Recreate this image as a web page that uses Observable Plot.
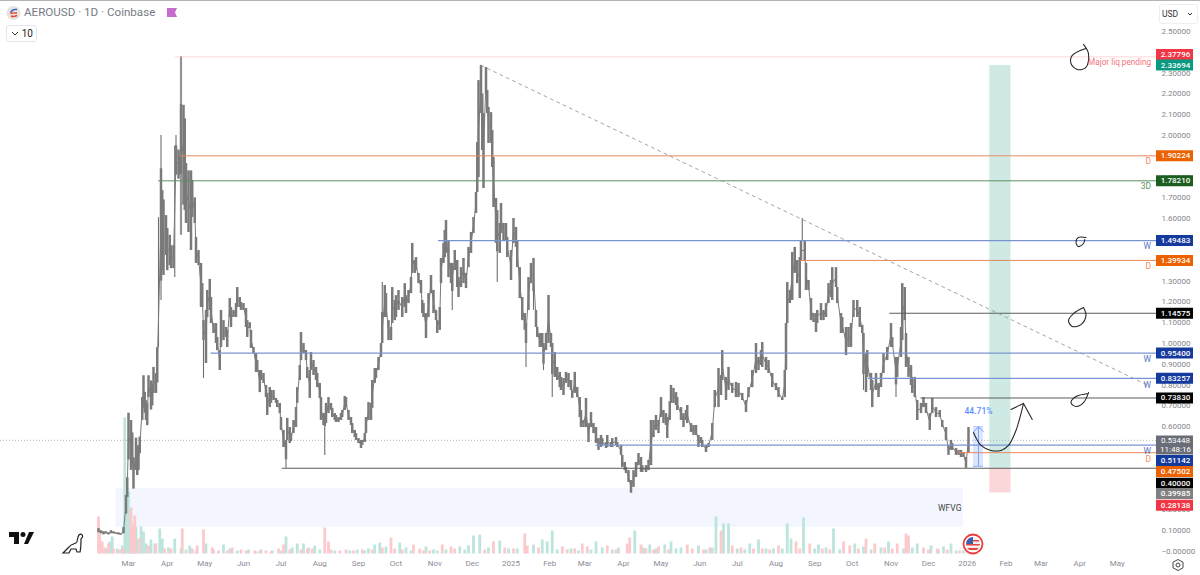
<!DOCTYPE html>
<html><head><meta charset="utf-8">
<script src="https://cdn.jsdelivr.net/npm/d3@7"></script>
<script src="https://cdn.jsdelivr.net/npm/@observablehq/plot@0.6"></script>
<style>
html,body{margin:0;padding:0;background:#fff;width:1200px;height:575px;overflow:hidden;font-family:Roboto,sans-serif}
#wrap{position:relative;width:1200px;height:575px}
#chart{position:absolute;left:0;top:0}
.ov{position:absolute}
#topline{left:0;top:0;width:1200px;height:1px;background:#b4b4b4}
#title{left:24px;top:5px;font-size:11.6px;color:#787b86;white-space:nowrap}
#intv{left:6px;top:25px;width:29px;height:15px;border:1px solid #e6e6ea;border-radius:3px;font-size:10px;color:#222;line-height:15px;text-align:right}
#intv span{margin-right:3px}
#usd{left:1159px;top:4px;width:35px;height:18px;border:1px solid #eeeef2;border-radius:3px;font-size:8.5px;color:#333;line-height:18px;padding-left:2px;box-sizing:content-box}
</style></head><body>
<div id="wrap">
<div id="chart"></div>
<div class="ov" id="topline"></div>
<svg class="ov" style="left:6px;top:5px" width="16" height="16"><circle cx="7.5" cy="8" r="7" fill="#e6e2dc"/><path d="M11 4.500C7 4 4.500 6 5 8" stroke="#2a5bd0" stroke-width="1.400" fill="none"/><path d="M4.500 8.500C7 7.500 9 8 11 8" stroke="#e8453c" stroke-width="1.400" fill="none"/><path d="M5 11C7 12 9 11.500 11 10.500" stroke="#e8453c" stroke-width="1.400" fill="none"/></svg>
<div class="ov" id="title">AEROUSD · 1D · Coinbase</div>
<svg class="ov" style="left:167px;top:8px" width="11" height="10"><path d="M0 0H10L8 4.500L10 9H0Z" fill="#c56ccc"/></svg>
<div class="ov" id="intv"><svg width="8" height="6" style="margin-right:3px"><path d="M1 1L4 4L7 1" stroke="#333" fill="none"/></svg><span>10</span></div>
<div class="ov" id="usd">USD<svg width="6" height="5" style="margin-left:9px"><path d="M1 1L3 3L5 1" stroke="#333" fill="none"/></svg></div>
<svg class="ov" style="left:9px;top:532px" width="25" height="13"><path d="M0 0H10V12H5V5H0Z" fill="#111"/><circle cx="14" cy="2.500" r="2.500" fill="#111"/><path d="M15 12L20 0H25L19 12Z" fill="#111"/></svg>
<svg class="ov" style="left:61px;top:533px" width="24" height="22"><path d="M2 20L8 14C10 11 13 11 15 10C17 9 16 4 18 2C20 0 22 2 21.500 4L20 6C20 10 20 15 19 19H16L15 16H10L8 20Z" fill="none" stroke="#222" stroke-width="1.200"/></svg>
<svg class="ov" style="left:962px;top:533px" width="22" height="22"><circle cx="11" cy="11" r="9.500" fill="#fff" stroke="#ee3b3b" stroke-width="1.800"/><clipPath id="flagclip"><circle cx="11" cy="11" r="7"/></clipPath><g clip-path="url(#flagclip)"><rect x="3" y="4" width="16" height="14" fill="#f2f2f2"/><rect x="3" y="7" width="16" height="1.500" fill="#e8453c"/><rect x="3" y="11" width="16" height="1.500" fill="#e8453c"/><rect x="3" y="15" width="16" height="2" fill="#e8453c"/><rect x="3" y="4" width="8" height="7" fill="#3a5fb0"/></g></svg>
<svg class="ov" style="left:1171px;top:558px" width="14" height="14"><path d="M7 1.500L12 4.200V9.800L7 12.500L2 9.800V4.200Z" fill="none" stroke="#444" stroke-width="1"/><circle cx="7" cy="7" r="2" fill="none" stroke="#444"/></svg>
</div>
<script>
// Days are counted from 6 Feb 2024.
const startUTC = Date.UTC(2024, 1, 6);
const day = d => new Date(startUTC + d * 864e5);

// AERO/USD candle ranges: [day, high, low]
const earlyCandles = [[0,.11,.09],[2,.10,.085],[4,.095,.08],[6,.095,.085],[8,.09,.08],[10,.10,.085],[12,.095,.085],[14,.09,.085],[16,.09,.08],[18,.085,.08],[20,.115,.085],[22,.27,.18],[23,.355,.26],[24,.665,.44],[26,.63,.39],[27,.57,.42],[28,.45,.30],[30,.545,.39],[31,.50,.365],[32,.51,.39],[33,.55,.47],[35,.74,.63],[36,.845,.69],[37,.765,.665],[38,.725,.63],[39,.71,.605],[40,.845,.74],[42,.82,.68],[43,.80,.70],[44,.885,.76],[46,.855,.76],[47,.98,.81]];
const peak2024 = [[50,1.84,1.30],[51,1.735,1.35],[52,1.69,1.327],[54,1.615,1.423],[55,1.553,1.35],[57,1.52,1.375],[58,1.47,1.36],[60,1.47,1.36],[62,1.95,1.81],[64,1.93,1.79],[65,1.90,1.81],[66,2.15,1.81],[68,2.145,1.665],[69,2.08,1.64],[70,1.865,1.577],[72,1.83,1.534],[74,1.83,1.447],[75,1.784,1.606],[77,1.70,1.577],[78,1.51,1.385],[80,1.447,1.375],[82,1.385,1.173],[83,1.288,1.173],[84,1.11,1.014],[86,1.159,.904],[87,1.255,1.125],[89,1.308,1.159],[90,1.221,1.096],[92,1.096,1.048],[94,1.096,1.0],[95,1.029,.966],[97,.966,.87],[98,1.159,.981],[100,1.11,1.014],[102,1.077,1.029],[103,1.063,.981],[105,1.216,1.125],[106,1.173,1.077],[108,1.159,1.125],[110,1.192,1.125],[111,1.269,1.173],[113,1.221,1.173],[114,1.197,1.159],[116,1.192,1.159],[118,1.168,1.077],[119,1.11,1.029],[121,1.10,1.072],[122,1.063,.976],[124,.981,.952],[126,.952,.861],[127,.918,.861],[129,.87,.764],[130,.87,.822],[132,.856,.808],[134,.798,.74],[135,.76,.654],[137,.788,.692],[138,.774,.712],[140,.774,.726],[142,.736,.712],[143,.726,.692],[145,.712,.663],[146,.644,.582],[148,.582,.50],[150,.534,.44]];
const summer2024 = [[151,.64,.534],[153,.596,.519],[154,.567,.529],[156,.63,.567],[158,.692,.596],[159,.788,.712],[161,.894,.822],[162,1.053,.918],[164,1.0,.952],[166,.966,.918],[167,.885,.832],[169,.87,.736],[170,.957,.87],[172,.918,.846],[174,.885,.822],[175,.856,.788],[177,.808,.736],[178,.74,.63],[180,.663,.606],[181,.663,.60],[182,.712,.615],[184,.74,.663],[186,.712,.678],[187,.688,.644],[189,.663,.63],[190,.654,.62],[192,.644,.62],[194,.663,.63],[195,.678,.644],[197,.745,.678],[198,.74,.692],[200,.678,.63],[202,.644,.606],[203,.615,.567],[205,.582,.548],[206,.567,.534],[208,.543,.519],[210,.534,.495],[211,.534,.51],[213,.567,.524],[214,.644,.567],[216,.716,.63],[218,.712,.63],[219,.822,.688],[221,.88,.808],[222,.88,.832],[224,.933,.87],[226,1.0,.933],[227,1.15,1.0],[229,1.279,1.125],[230,1.24,1.125],[232,1.11,1.014],[234,1.077,1.014],[235,1.269,1.096],[237,1.207,1.11],[238,1.23,1.125],[240,1.255,1.159],[243,1.221,1.125],[245,1.288,1.173],[246,1.23,1.144],[248,1.255,1.192],[250,1.317,1.24]];
const rally2024 = [[251,1.481,1.337],[253,1.399,1.337],[254,1.413,1.351],[256,1.337,1.288],[258,1.303,1.24],[259,1.207,1.144],[260,1.192,1.125],[262,1.144,1.024],[264,1.24,1.125],[266,1.327,1.24],[268,1.255,1.144],[270,1.159,1.11],[271,1.11,1.048],[273,1.173,1.063],[274,1.409,1.288],[276,1.481,1.385],[277,1.543,1.413],[278,1.591,1.433],[280,1.495,1.317],[282,1.385,1.288],[283,1.385,1.25],[285,1.447,1.351],[287,1.399,1.269],[288,1.317,1.221],[290,1.365,1.269],[292,1.409,1.288],[294,1.337,1.264],[296,1.462,1.365],[298,1.534,1.433],[300,1.606,1.529],[302,1.726,1.625],[303,1.966,1.726],[304,2.264,1.798],[306,2.337,2.106],[307,2.2,1.928],[308,2.106,1.745],[310,2.327,2.2],[311,2.216,2.106],[312,2.135,1.962],[314,2.11,1.962],[315,2.024,1.846],[316,1.894,1.654],[318,1.697,1.481],[319,1.639,1.44],[321,1.577,1.433],[322,1.673,1.529],[324,1.577,1.495],[326,1.577,1.495],[327,1.51,1.413],[330,1.447,1.303],[332,1.601,1.481],[334,1.558,1.462],[335,1.495,1.365],[337,1.365,1.216],[339,1.221,1.11],[341,1.144,1.063],[342,1.096,1.0],[344,1.317,1.159],[346,1.385,1.288],[348,1.409,1.25],[350,1.159,1.077],[351,1.077,1.029],[353,1.048,.981],[355,1.048,.981],[356,1.0,.90],[358,1.048,.966],[360,1.231,1.0],[362,1.048,.981],[363,1.0,.85]];
const decline2025 = [[365,.957,.837],[367,.885,.822],[369,.861,.788],[370,.837,.774],[372,.832,.75],[374,.861,.808],[376,.856,.788],[378,.822,.774],[379,.774,.736],[381,.861,.76],[383,.788,.74],[385,.74,.644],[386,.678,.596],[388,.63,.596],[390,.736,.596],[392,.615,.524],[394,.668,.596],[396,.615,.567],[398,.596,.519],[400,.543,.486],[402,.558,.5],[403,.543,.51],[406,.524,.495],[407,.558,.5],[410,.524,.5],[411,.543,.5],[414,.548,.51],[415,.524,.5],[418,.51,.462],[419,.462,.404],[421,.428,.389],[422,.404,.375],[424,.389,.332],[426,.341,.28],[428,.389,.308],[430,.428,.356],[432,.471,.413],[434,.452,.38],[435,.413,.38],[438,.413,.38],[440,.438,.389],[442,.63,.413]];
const midyear2025 = [[444,.63,.548],[446,.654,.582],[448,.63,.567],[450,.74,.644],[452,.678,.615],[454,.663,.606],[455,.644,.543],[457,.72,.63],[458,.798,.712],[460,.784,.712],[462,.764,.702],[463,.74,.678],[466,.692,.63],[468,.663,.596],[470,.678,.63],[471,.702,.615],[474,.615,.572],[476,.606,.558],[478,.606,.558],[480,.558,.5],[482,.548,.519],[483,.534,.5],[486,.51,.476],[488,.519,.5],[491,.615,.534],[493,.774,.692],[496,.88,.692],[498,.846,.75],[499,.966,.822],[502,.837,.726],[504,.885,.774],[507,.808,.76],[510,.813,.74],[512,.808,.74],[515,.76,.726],[518,.726,.668],[520,.788,.74],[523,.87,.788],[526,1.0,.856],[528,.933,.87],[530,.966,.894],[531,1.005,.885],[534,.933,.87],[536,.918,.856],[539,.856,.788],[542,.808,.774],[544,.788,.74],[547,.74,.726],[549,.87,.74],[550,1.096,.87],[551,1.293,1.096],[553,1.255,1.192],[555,1.438,1.207],[557,1.462,1.337],[559,1.399,1.288],[561,1.413,1.216],[562,1.495,1.399],[565,1.495,1.399],[566,1.385,1.255],[568,1.303,1.255],[570,1.216,1.11],[572,1.144,1.101],[574,1.144,1.053],[575,1.159,1.096],[578,1.192,1.11],[580,1.159,1.11],[582,1.192,1.125],[584,1.288,1.192],[586,1.303,1.221],[587,1.365,1.207],[590,1.365,1.269],[591,1.269,1.192]];
const lateYear2025 = [[594,1.144,1.048],[595,1.125,1.048],[598,1.077,.942],[600,1.077,.981],[602,1.096,.981],[604,1.207,1.125],[607,1.207,1.125],[609,1.173,1.077],[611,1.087,1.048],[612,1.048,.85],[614,.952,.764],[615,.966,.837],[618,.856,.774],[619,.822,.692],[622,.856,.774],[624,.808,.74],[626,.856,.788],[628,.952,.856],[631,.981,.918],[634,1.096,.981],[635,1.029,.981],[638,.933,.80],[639,.933,.837],[642,1.077,.933],[643,1.288,1.014],[645,1.269,1.11],[646,1.048,.885],[648,.933,.837],[650,.894,.798],[651,.837,.76],[653,.837,.74],[655,.726,.63],[658,.712,.663],[660,.74,.692],[662,.712,.663],[665,.663,.582],[667,.736,.663],[670,.692,.644],[673,.678,.644],[675,.63,.596],[678,.596,.534],[680,.51,.462],[682,.534,.486],[683,.519,.486],[686,.495,.462],[688,.486,.462],[690,.486,.452],[692,.476,.452],[694,.452,.40],[696,.596,.471]];
const wickSpikes = [[48,1.605,.98],[50,2.0,1.207],[61,1.95,1.317],[62,2.0,1.81],[84,1.014,.832],[181,.60,.462],[227,1.293,1.15],[150,.44,.40],[319,1.44,1.293],[342,1.0,.885],[348,1.25,1.159],[283,1.25,1.159],[356,.90,.87],[363,.85,.74],[563,1.601,1.495],[612,.85,.774],[638,.80,.74]];
const peakWick = [[66,2.378,2.15],[66,1.81,1.52]];

// Volume heights read from the strip: [day, height]
const upVolume = [[6,5],[9,12],[11,17],[15,5],[19,8],[21,136],[22,66],[24,62],[25,40],[27,25],[30,27],[31,15],[34,27],[36,22],[38,10],[42,14],[45,10],[49,25],[51,15],[56,6],[61,15],[66,5],[70,4],[73,8],[78,3],[86,10],[92,4],[100,9],[105,5],[111,3],[120,4],[126,2],[130,4],[139,3],[146,3],[150,17],[155,6],[159,10],[164,10],[168,6],[173,8],[177,4],[189,3],[201,3],[207,4],[213,3],[216,5],[221,9],[225,11],[230,7],[241,11],[246,6],[250,3],[262,7],[268,4],[271,3],[278,4],[289,7],[293,4],[296,8],[300,18],[305,19],[312,6],[321,13],[328,5],[335,5],[348,9],[355,14],[359,12],[363,23],[367,4],[378,5],[384,3],[394,4],[398,12],[403,6],[411,4],[416,6],[429,23],[436,6],[441,9],[446,5],[453,9],[458,12],[462,5],[466,6],[480,8],[486,4],[491,6],[494,37],[500,30],[504,30],[511,5],[517,4],[521,10],[528,14],[534,5],[540,5],[547,5],[551,30],[554,15],[564,36],[573,5],[576,9],[582,6],[588,25],[593,4],[605,10],[612,7],[618,4],[626,6],[632,12],[644,5],[651,6],[655,10],[666,8],[672,4],[676,7],[682,10],[686,3],[692,3]];
const downVolume = [[0,37],[1,20],[3,12],[5,6],[8,10],[12,5],[17,4],[20,6],[26,46],[28,30],[29,38],[33,15],[40,8],[46,10],[53,5],[58,5],[67,25],[75,5],[79,8],[84,24],[91,6],[96,3],[103,3],[107,6],[114,4],[118,3],[125,3],[129,3],[134,3],[138,2],[144,5],[148,9],[153,4],[162,4],[167,5],[171,5],[181,26],[184,12],[186,4],[193,3],[198,4],[204,3],[211,4],[219,4],[227,6],[234,16],[237,5],[243,4],[252,9],[257,5],[260,3],[265,3],[275,9],[282,7],[285,5],[309,4],[316,12],[325,6],[332,5],[341,20],[343,8],[352,6],[371,7],[375,4],[381,5],[387,10],[391,7],[407,8],[414,4],[423,10],[425,16],[434,9],[438,5],[444,4],[448,7],[456,4],[471,9],[475,5],[484,4],[489,6],[498,23],[507,8],[514,6],[524,5],[531,5],[537,4],[544,8],[558,12],[561,5],[569,10],[579,5],[585,4],[596,12],[601,8],[608,5],[614,15],[621,10],[629,6],[635,5],[639,10],[646,20],[648,18],[660,6],[664,4],[671,5],[679,4],[689,3],[695,4]];

// Horizontal levels: [price, first day]
const orangeLevels = [[1.90224,66],[1.39934,562],[.47502,688]];
const greenLevels = [[1.7821,48]];
const blueLevels = [[1.49483,272],[.954,90],[.83257,616],[.51142,398]];
const blackLevels = [[1.14575,633],[.7383,658],[.4,147]];
const liquidityLevel = [[2.37796,62]];
const lastPrice = [.53448];

// Text beside the levels: [label, price, colour]
const levelNotes = [["D",1.875,"#f08c5a"],["3D",1.754,"#5c9160"],["W",1.466,"#5873c2"],["D",1.37,"#f08c5a"],["W",.925,"#5873c2"],["W",.80,"#5873c2"],["W",.483,"#5873c2"],["D",.445,"#f08c5a"]];

// Price tags on the right: [text, price at which it sits, fill]
const priceTags = [["2.37796",2.389,"#f23645"],["2.33694",2.339,"#089981"],["1.90224",1.90224,"#ec6200"],["1.78210",1.7821,"#1b5e20"],["1.49483",1.49483,"#153a9e"],["1.39934",1.39934,"#ec6200"],["1.14575",1.14575,"#000000"],["0.95400",.954,"#153a9e"],["0.83257",.83257,"#153a9e"],["0.73830",.7383,"#000000"],["0.51142",.4375,"#153a9e"],["0.47502",.385,"#ec6200"],["0.40000",.328,"#000000"],["0.39985",.279,"#808080"],["0.28138",.2226,"#f23645"]];

// Hand-drawn strokes and the trend line: [day, price]
const trendLine = [[306,2.337],[840,.798]];
const loopTop = [[788,2.438],[792,2.394],[790,2.327],[783,2.317],[778,2.346],[779,2.385],[790,2.418]];
const loopW = [[790,1.51],[784,1.51],[782,1.486],[784,1.466],[788,1.481],[789,1.5]];
const loopBlack = [[788,1.173],[790,1.135],[786,1.091],[779,1.082],[776,1.111],[780,1.144],[788,1.173]];
const loopLower = [[792,.764],[788,.716],[782,.697],[778,.716],[782,.745],[792,.76]];
const swoosh = [[700,.572],[706,.51],[714,.486],[722,.486],[728,.51],[734,.582],[738,.663],[740,.712]];
const swooshHead = [[730,.683],[740,.712],[747,.635]];

// The ticks covered in full by a price tag are left out.
const yTickValues = [2.5,2.3,2.2,2.1,2.0,1.8,1.7,1.6,1.3,1.2,1.1,1.0,.9,.8,.7,.6,.2,.1,0];
const xTickDates = [[24,"Mar"],[55,"Apr"],[85,"May"],[116,"Jun"],[146,"Jul"],[177,"Aug"],[208,"Sep"],[238,"Oct"],[269,"Nov"],[299,"Dec"],[330,"2025"],[361,"Feb"],[389,"Mar"],[420,"Apr"],[450,"May"],[481,"Jun"],[511,"Jul"],[542,"Aug"],[573,"Sep"],[603,"Oct"],[634,"Nov"],[664,"Dec"],[695,"2026"],[726,"Feb"],[754,"Mar"],[785,"Apr"],[815,"May"]];
const xLabelByTime = new Map(xTickDates.map(([d, t]) => [+day(d), t]));

const candles = [...earlyCandles, ...peak2024, ...summer2024, ...rally2024, ...decline2025, ...midyear2025, ...lateYear2025];
const F = "Roboto, sans-serif";
const levelRule = (rows, color, w = 1, extra = {}) => Plot.ruleY(rows, {y: r => r[0], x1: r => day(r[1]), x2: day(848), stroke: color, strokeWidth: w, ...extra});
const stroke = (rows, curve = "catmull-rom") => Plot.line(rows, {x: r => day(r[0]), y: r => r[1], stroke: "#222222", strokeWidth: 1.05, curve});

const plot = Plot.plot({
  width: 1200, height: 575,
  marginLeft: 0, marginRight: 42, marginTop: 31, marginBottom: 24,
  style: {background: "transparent", fontFamily: F, overflow: "visible"},
  x: {type: "utc", domain: [day(-78.4), day(848)], range: [0, 1158]},
  y: {domain: [0, 2.5], range: [551, 31]},
  marks: [
    Plot.rect([[14, 692, .303, .115]], {x1: r => day(r[0]), x2: r => day(r[1]), y1: r => r[2], y2: r => r[3], fill: "#f3f6fe"}),
    Plot.rect([[713, 730, 2.33694, .4]], {x1: r => day(r[0]), x2: r => day(r[1]), y1: r => r[2], y2: r => r[3], fill: "#cfeae4"}),
    Plot.rect([[713, 730, .4, .28138]], {x1: r => day(r[0]), x2: r => day(r[1]), y1: r => r[2], y2: r => r[3], fill: "#fcd7da"}),
    Plot.rect([[700, 708, .60, .41]], {x1: r => day(r[0]), x2: r => day(r[1]), y1: r => r[2], y2: r => r[3], fill: "#dbe6ff"}),
    // Volume, drawn on the same vertical axis: one unit is one pixel above the pane's floor
    Plot.ruleX(upVolume, {x: r => day(r[0]), y1: -0.012, y2: r => -0.012 + r[1] / 208, stroke: "#bde5dd", strokeWidth: 2.8}),
    Plot.ruleX(downVolume, {x: r => day(r[0]), y1: -0.012, y2: r => -0.012 + r[1] / 208, stroke: "#fcc9cc", strokeWidth: 2.8}),
    Plot.ruleY(lastPrice, {stroke: "#b5b5b5", strokeWidth: 1, strokeDasharray: "1 2"}),
    // Candles
    Plot.ruleX(peakWick, {x: r => day(r[0]), y1: r => r[1], y2: r => r[2], stroke: "#949494", strokeWidth: 2.2}),
    Plot.ruleX(wickSpikes, {x: r => day(r[0]), y1: r => r[1], y2: r => r[2], stroke: "#6f6f6f", strokeWidth: 1.1}),
    Plot.line(candles, {x: r => day(r[0]), y: r => (r[1] + r[2]) / 2, stroke: "#7a7a7a", strokeWidth: 1}),
    Plot.ruleX(candles, {x: r => day(r[0]), y1: r => r[1], y2: r => r[2], stroke: "#7a7a7a", strokeWidth: 2.5}),
    // Levels
    levelRule(liquidityLevel, "#ffa8b0", 1, {strokeDasharray: "1 1"}),
    levelRule(orangeLevels, "#e9885a"),
    levelRule(greenLevels, "#5c9160"),
    levelRule(blueLevels, "#7a93d2", 1.2),
    levelRule(blackLevels, "#5c5c5c", 1.1),
    Plot.line(trendLine, {x: r => day(r[0]), y: r => r[1], stroke: "#9a9a9a", strokeWidth: 0.9, strokeDasharray: "3 4"}),
    // Measuring arrow
    Plot.ruleX([704], {x: d => day(d), y1: .60, y2: .41, stroke: "#7aa0ff", strokeWidth: 1}),
    Plot.ruleY([.41], {x1: day(700), x2: day(708), stroke: "#7aa0ff", strokeWidth: 1}),
    Plot.ruleY([.60], {x1: day(700), x2: day(708), stroke: "#b8ccff", strokeWidth: 1}),
    Plot.line([[700,.575],[704,.60],[708,.575]], {x: r => day(r[0]), y: r => r[1], stroke: "#7aa0ff", strokeWidth: 1}),
    Plot.text(["44.71%"], {x: day(704), y: .675, text: d => d, fill: "#5c8dff", fontSize: 8.5, fontWeight: 500}),
    // Hand-drawn notes
    stroke(loopTop), stroke(loopW), stroke(loopBlack), stroke(loopLower), stroke(swoosh), stroke(swooshHead, "linear"),
    Plot.text(["WFVG"], {x: day(681), y: .209, text: d => d, fill: "#444", fontSize: 8.5}),
    Plot.text(["Major liq pending"], {x: day(842), y: 2.351, text: d => d, textAnchor: "end", fill: "#f66f7c", fontSize: 8.2}),
    Plot.text(levelNotes, {x: day(842), y: r => r[1], text: r => r[0], fill: r => r[2], textAnchor: "end", fontSize: 8.5}),
    // Axes
    Plot.axisY({anchor: "right", ticks: yTickValues, tickSize: 0, tickPadding: 3, label: null, fontSize: 8, fill: "#86868e", tickFormat: v => v === 0 ? "\u22120.00000" : v.toFixed(5)}),
    Plot.axisX({anchor: "bottom", ticks: xTickDates.map(t => day(t[0])), tickSize: 0, tickPadding: 9, label: null, fontSize: 8, fill: "#8c8c96", tickFormat: t => xLabelByTime.get(+t)}),
    // Price tags
    Plot.ruleY([.512], {x1: day(846.4), x2: day(876), stroke: "#6a6d78", strokeWidth: 19}),
    Plot.text(["0.53448"], {x: day(861.6), y: .534, text: d => d, fill: "#fff", fontSize: 8}),
    Plot.text(["11:48:16"], {x: day(861.6), y: .49, text: d => d, fill: "#fff", fontSize: 8}),
    Plot.ruleY(priceTags, {y: r => r[1], x1: day(846.4), x2: day(876), stroke: r => r[2], strokeWidth: 11}),
    Plot.text(priceTags, {x: day(861.6), y: r => r[1], text: r => r[0], fill: "#fff", fontSize: 8, fontWeight: 500})
  ]
});
document.getElementById("chart").appendChild(plot);
</script>
</body></html>
